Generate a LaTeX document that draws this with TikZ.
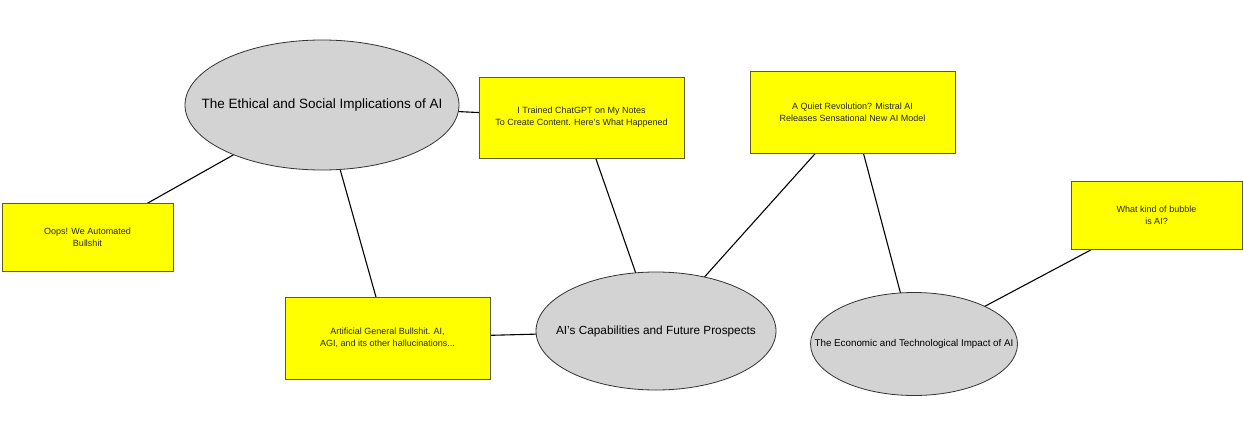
\documentclass[tikz,border=0pt]{standalone}
\usepackage{fontspec}
\setmainfont{Liberation Sans}
\usetikzlibrary{shapes.geometric}
\definecolor{ellfill}{HTML}{D3D3D3}
\definecolor{ellline}{HTML}{333333}
\definecolor{boxfill}{HTML}{FFFF00}
\definecolor{boxline}{HTML}{5C5C1E}
\tikzset{
  topic/.style={ellipse, draw=ellline, fill=ellfill, line width=0.8pt, inner sep=0pt, text=black},
  article/.style={rectangle, draw=boxline, fill=boxfill, line width=0.9pt, inner sep=0pt, align=center, font=\fontsize{9}{12}\selectfont, text=black!85},
  link/.style={draw=black, line width=1.1pt}
}
\begin{document}
\begin{tikzpicture}[x=1pt,y=-1pt]
\useasboundingbox (0,0) rectangle (1243,426);
% links first (behind nodes)
\coordinate (e1) at (322,105);
\coordinate (e2) at (656,331);
\coordinate (e3) at (914,344);
\coordinate (r1) at (87.5,237);
\coordinate (r2) at (387.5,338);
\coordinate (r3) at (581.5,117.5);
\coordinate (r4) at (852.5,112);
\coordinate (r5) at (1156.5,215);
\draw[link] (e1) -- (r1);
\draw[link] (e1) -- (r2);
\draw[link] (e1) -- (r3);
\draw[link] (e2) -- (r2);
\draw[link] (e2) -- (r3);
\draw[link] (e2) -- (r4);
\draw[link] (e3) -- (r4);
\draw[link] (e3) -- (r5);
% topics
\node[topic, minimum width=274, minimum height=130, font=\fontsize{13.5}{16}\selectfont] (ethical) at (e1) {\makebox[0pt]{The Ethical and Social Implications of AI}};
\node[topic, minimum width=240, minimum height=118, font=\fontsize{11.8}{14}\selectfont] (capab) at (e2) {\makebox[0pt]{AI's Capabilities and Future Prospects}};
\node[topic, minimum width=207, minimum height=103, font=\fontsize{9.8}{12}\selectfont] (econ) at (e3) {\makebox[0pt]{The Economic and Technological Impact of AI}};
% articles
\node[article, minimum width=171, minimum height=68] (oops) at (r1) {Oops! We Automated\\Bullshit};
\node[article, minimum width=205, minimum height=82] (agb) at (r2) {Artificial General Bullshit. AI,\\AGI, and its other hallucinations...};
\node[article, minimum width=205, minimum height=81] (trained) at (r3) {I Trained ChatGPT on My Notes\\To Create Content. Here's What Happened};
\node[article, minimum width=205, minimum height=82] (quiet) at (r4) {A Quiet Revolution? Mistral AI\\Releases Sensational New AI Model};
\node[article, minimum width=171, minimum height=68] (bubble) at (r5) {What kind of bubble\\is AI?};
\end{tikzpicture}
\end{document}
